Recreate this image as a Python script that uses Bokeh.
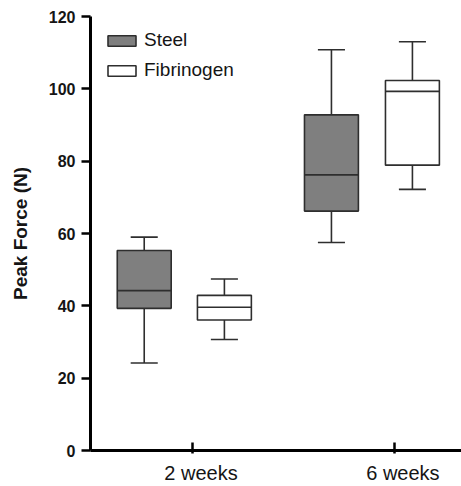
from bokeh.plotting import figure
from bokeh.models import Range1d, LinearAxis, FixedTicker, Legend, LegendItem, ColumnDataSource
from bokeh.embed import file_html
from bokeh.resources import INLINE

# ---- data ----
groups = ["2 weeks", "6 weeks"]
series = ["Steel", "Fibrinogen"]
steel_lower = [24.2, 57.5]
steel_q1 = [39.3, 66.2]
steel_median = [44.2, 76.2]
steel_q3 = [55.3, 92.8]
steel_upper = [59.0, 110.8]
fib_lower = [30.7, 72.2]
fib_q1 = [36.1, 78.9]
fib_median = [39.6, 99.3]
fib_q3 = [42.9, 102.3]
fib_upper = [47.4, 113.0]
y_ticks = [0, 20, 40, 60, 80, 100, 120]

# ---- layout ----
group_pos = [1, 2]
steel_offset = [-0.239, -0.312]
fib_offset = [0.158, 0.089]
label_offset = 0.042
BOX_W = 0.267
CAP_W = 0.134
LINE = "#2e2e2e"
LW = 1.6
FONT = "Liberation Sans"
TXT = "#151515"

p = figure(frame_width=371, frame_height=434,
           min_border_left=90, min_border_top=16, min_border_right=0, min_border_bottom=0,
           x_range=Range1d(0.495, 2.332), y_range=Range1d(0, 120),
           x_axis_location=None, output_backend="svg", toolbar_location=None)
p.outline_line_color = None
p.grid.visible = False
p.background_fill_color = "white"
p.border_fill_color = "white"


def draw_box(offsets, lower, q1, med, q3, upper, fill):
    xs = [g + o for g, o in zip(group_pos, offsets)]
    src = ColumnDataSource(dict(
        x=xs, lower=lower, q1=q1, med=med, q3=q3, upper=upper,
        bl=[x - BOX_W / 2 for x in xs], br=[x + BOX_W / 2 for x in xs],
        cl=[x - CAP_W / 2 for x in xs], cr=[x + CAP_W / 2 for x in xs]))
    p.segment(x0="x", x1="x", y0="q3", y1="upper", line_color=LINE, line_width=LW, source=src)
    p.segment(x0="x", x1="x", y0="q1", y1="lower", line_color=LINE, line_width=LW, source=src)
    p.segment(x0="cl", x1="cr", y0="upper", y1="upper", line_color=LINE, line_width=LW, source=src)
    p.segment(x0="cl", x1="cr", y0="lower", y1="lower", line_color=LINE, line_width=LW, source=src)
    r = p.vbar(x="x", width=BOX_W, bottom="q1", top="q3", fill_color=fill,
               line_color=LINE, line_width=LW, source=src)
    p.segment(x0="bl", x1="br", y0="med", y1="med", line_color=LINE, line_width=LW, source=src)
    return r


r_steel = draw_box(steel_offset, steel_lower, steel_q1, steel_median, steel_q3, steel_upper, "#7f7f7f")
r_fib = draw_box(fib_offset, fib_lower, fib_q1, fib_median, fib_q3, fib_upper, "white")

# ---- y axis ----
ya = p.yaxis[0]
ya.ticker = FixedTicker(ticks=y_ticks)
ya.axis_label = "Peak Force (N)"
ya.axis_label_text_font = FONT
ya.axis_label_text_font_style = "bold"
ya.axis_label_text_font_size = "19px"
ya.axis_label_text_color = TXT
ya.axis_label_standoff = 15
ya.major_label_text_font = FONT
ya.major_label_text_font_style = "bold"
ya.major_label_text_font_size = "16px"
ya.major_label_text_color = TXT
ya.major_label_standoff = 6
ya.major_tick_in = 0
ya.major_tick_out = 9
ya.major_tick_line_width = 2.5
ya.minor_tick_line_color = None
ya.axis_line_width = 3
ya.axis_line_color = "black"
ya.major_tick_line_color = "black"

# ---- x axis: labels at label positions (major, hidden marks), tick marks as minor ticks ----
label_ticks = [g + label_offset for g in group_pos]
xa = LinearAxis(ticker=FixedTicker(ticks=label_ticks, minor_ticks=group_pos),
                major_label_overrides={t: name for t, name in zip(label_ticks, groups)},
                major_tick_line_color=None, major_tick_in=0, major_tick_out=3,
                minor_tick_in=8, minor_tick_out=3, minor_tick_line_width=2.5,
                minor_tick_line_color="black",
                axis_line_width=3, axis_line_color="black",
                major_label_standoff=8, major_label_text_font=FONT,
                major_label_text_font_size="20px", major_label_text_color=TXT)
p.add_layout(xa, "below")

# ---- legend ----
legend = Legend(items=[LegendItem(label=series[0], renderers=[r_steel]),
                       LegendItem(label=series[1], renderers=[r_fib])],
                location=(14, 369), padding=0, margin=0,
                border_line_color=None, background_fill_alpha=0,
                glyph_width=35, glyph_height=13, label_standoff=5,
                spacing=8, label_height=20,
                label_text_font=FONT, label_text_font_size="19px",
                label_text_color=TXT)
p.add_layout(legend)

open("out.html", "w").write(file_html(p, INLINE))
